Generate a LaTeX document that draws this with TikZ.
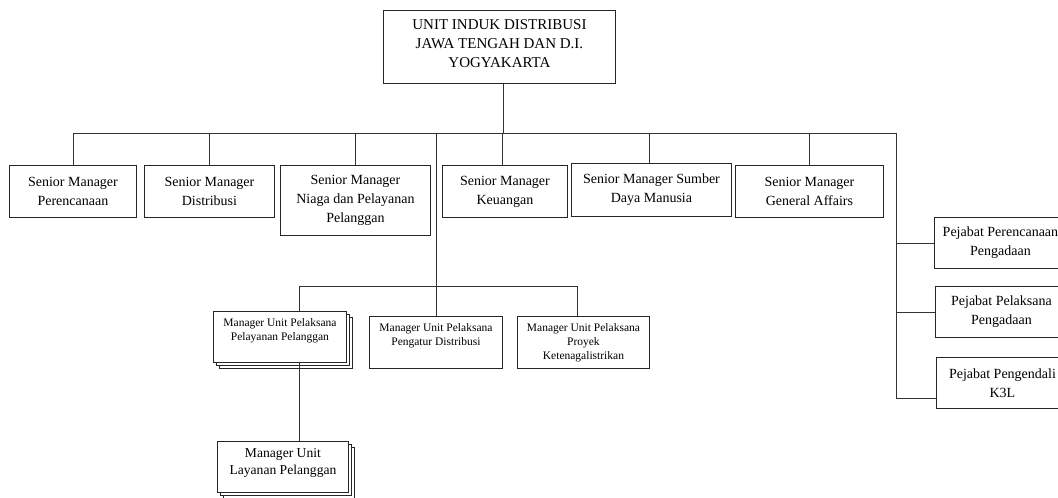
\documentclass[tikz,border=0pt]{standalone}
\usepackage{fontspec}
\setmainfont{Liberation Serif}
\usetikzlibrary{shadows}
\tikzset{
  box/.style={draw=black!85, line width=0.9pt, fill=white, anchor=north west,
    inner sep=0pt, align=center, font=\fontsize{14}{19}\selectfont},
  link/.style={draw=black!80, line width=0.9pt},
  stackbox/.style={box, double copy shadow={shadow xshift=3pt, shadow yshift=-3pt}},
}
\begin{document}
\begin{tikzpicture}[x=1pt,y=-1pt]
\useasboundingbox (0,0) rectangle (1058,498);

% top
\node[box, minimum width=232pt, minimum height=73pt, font=\fontsize{15}{19}\selectfont]
  (top) at (383,10) {UNIT INDUK DISTRIBUSI\\JAWA TENGAH DAN D.I.\\YOGYAKARTA\rule[-6pt]{0pt}{6pt}};

% senior managers
\node[box, minimum width=127pt, minimum height=52pt] (s1) at (9,165) {Senior Manager\\Perencanaan};
\node[box, minimum width=130pt, minimum height=52pt] (s2) at (144,165) {Senior Manager\\Distribusi};
\node[box, minimum width=150pt, minimum height=70pt] (s3) at (280,165) {Senior Manager\\Niaga dan Pelayanan\\Pelanggan};
\node[box, minimum width=125pt, minimum height=52pt] (s4) at (442,165) {Senior Manager\\Keuangan};
\node[box, minimum width=160pt, minimum height=53pt] (s5) at (571,163) {Senior Manager Sumber\\Daya Manusia};
\node[box, minimum width=148pt, minimum height=52pt] (s6) at (735,165) {Senior Manager\\General Affairs};

% pejabat
\node[box, minimum width=132pt, minimum height=51pt] (pj1) at (934,217) {Pejabat Perencanaan\\Pengadaan};
\node[box, minimum width=132pt, minimum height=51pt] (pj2) at (935,286) {Pejabat Pelaksana\\Pengadaan};
\node[box, minimum width=132pt, minimum height=51pt] (pj3) at (936,357) {Pejabat Pengendali\\K3L};

% managers unit
\node[stackbox, font=\fontsize{11.5}{14}\selectfont] (m1) at (213,311)
  {\parbox[c][51pt][t]{133pt}{\centering\rule{0pt}{15.5pt}Manager Unit Pelaksana\\Pelayanan Pelanggan}};
\node[box, font=\fontsize{11.5}{14}\selectfont] (m2) at (369,316)
  {\parbox[c][52pt][t]{133pt}{\centering\rule{0pt}{15.5pt}Manager Unit Pelaksana\\Pengatur Distribusi}};
\node[box, font=\fontsize{11.5}{14}\selectfont] (m3) at (517,316)
  {\parbox[c][52pt][t]{132pt}{\centering\rule{0pt}{15.5pt}Manager Unit Pelaksana\\Proyek\\Ketenagalistrikan}};
\node[stackbox, font=\fontsize{13.6}{17}\selectfont] (m4) at (217,441)
  {\parbox[c][51pt][t]{131pt}{\centering\rule{0pt}{16.5pt}Manager Unit\\Layanan Pelanggan}};

% connectors
\coordinate (busL) at (73,133);
\coordinate (busR) at (896,133);
\coordinate (topdrop) at (503,133);
\coordinate (rb) at (896,398);
\coordinate (subL) at (299,286);
\coordinate (subR) at (577,286);

\draw[link] (topdrop |- top.south) -- (topdrop);
\draw[link] (s1.north) -- (s1.north |- busL) -- (busR) -- (rb) -- (rb -| pj3.west);
\draw[link] (s2.north) -- (s2.north |- busL);
\draw[link] (s3.north) -- (s3.north |- busL);
\draw[link] ([xshift=-2.5pt]s4.north) -- ([xshift=-2.5pt]s4.north |- busL);
\draw[link] ([xshift=-2pt]s5.north) -- ([xshift=-2pt]s5.north |- busL);
\draw[link] (s6.north) -- (s6.north |- busL);
\draw[link] (pj1.west) -- (pj1.west -| busR);
\draw[link] (pj2.west) -- (pj2.west -| busR);
\draw[link] (m2.north) -- (m2.north |- busL);
\draw[link] (subL |- m1.north) -- (subL) -- (subR) -- (subR |- m3.north);
\draw[link] (subL |- m1.south) -- (subL |- m4.north);
\end{tikzpicture}
\end{document}
